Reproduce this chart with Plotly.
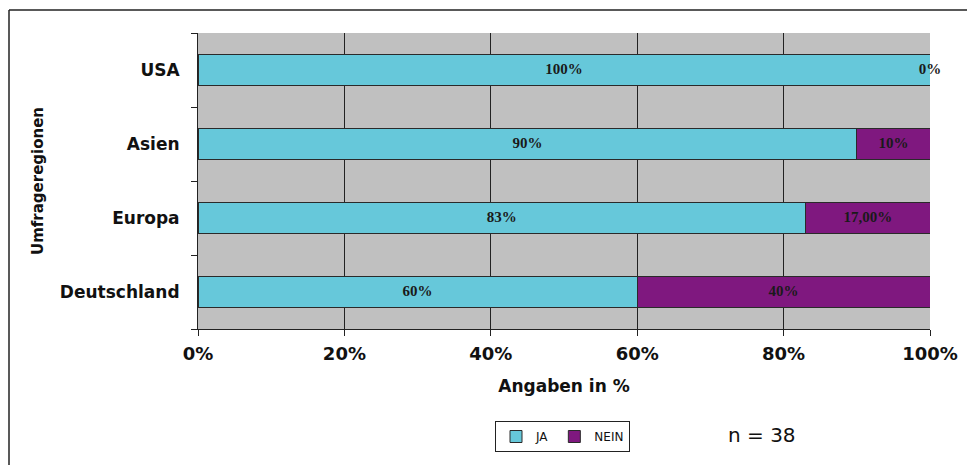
import plotly.graph_objects as go

categories = ["Deutschland", "Europa", "Asien", "USA"]
ja_values = [60, 83, 90, 100]
nein_values = [40, 17, 10, 0]
ja_labels = ["60%", "83%", "90%", "100%"]
nein_labels = ["40%", "17,00%", "10%", "0%"]
x_ticks = [0, 20, 40, 60, 80, 100]
x_tick_labels = ["0%", "20%", "40%", "60%", "80%", "100%"]

CYAN = "#66C8DA"
PURPLE = "#7F187F"
OFF = 8  # page body margin
W, H = 975 - OFF, 465 - OFF
L, T = 198 - OFF, 33 - OFF
R = W - (930 - OFF)
B = H - (329 - OFF)
pw, ph = W - L - R, H - T - B

def px(x):
    return (x - OFF - L) / pw

def py(y):
    return (H - B - (y - OFF)) / ph

fig = go.Figure()
fig.add_trace(go.Bar(
    y=categories, x=ja_values, name="JA", orientation="h",
    marker=dict(color=CYAN, line=dict(color="#2a2a2a", width=1)), width=0.42,
))
fig.add_trace(go.Bar(
    y=categories, x=nein_values, name="NEIN", orientation="h",
    marker=dict(color=PURPLE, line=dict(color="#2a2a2a", width=1)), width=0.42,
))

label_font = dict(family="Liberation Serif", size=15, color="#1a1a1a", weight="bold")
fig.add_trace(go.Scatter(
    y=categories, x=[v / 2 for v in ja_values], mode="text", text=ja_labels,
    textfont=label_font, showlegend=False, hoverinfo="skip", cliponaxis=False,
))
fig.add_trace(go.Scatter(
    y=categories, x=[a + n / 2 for a, n in zip(ja_values, nein_values)], mode="text",
    text=nein_labels, textfont=label_font, showlegend=False, hoverinfo="skip",
    cliponaxis=False,
))

tick_font = dict(family="DejaVu Sans", size=18, color="#111111", weight="bold")
cat_font = dict(family="DejaVu Sans", size=17, color="#111111", weight="bold")
border = dict(color="#222222", width=1.5)
fig.update_layout(
    width=W, height=H,
    margin=dict(l=L, r=R, t=T, b=B, autoexpand=False),
    barmode="stack",
    plot_bgcolor="#C0C0C0",
    paper_bgcolor="white",
    font=dict(family="DejaVu Sans", color="#111111"),
    xaxis=dict(
        range=[0, 100], tickvals=x_ticks, ticktext=x_tick_labels,
        showgrid=True, gridcolor="#222222", gridwidth=1,
        showline=True, linecolor="#222222", linewidth=1,
        ticks="outside", ticklen=6, tickcolor="#222222",
        tickfont=tick_font, automargin=False, ticklabelstandoff=2,
        title=dict(text="Angaben in %", font=cat_font, standoff=17),
        zeroline=False,
    ),
    yaxis=dict(
        type="category", categoryorder="array", categoryarray=categories,
        range=[-0.5, 3.5], automargin=False,
        showline=True, linecolor="#222222", linewidth=1,
        ticks="outside", ticklen=6, tickcolor="#222222", tickson="boundaries",
        tickfont=cat_font, ticklabelstandoff=14,
        title=dict(text="Umfrageregionen",
                   font=dict(family="DejaVu Sans", size=15, color="#111111", weight="bold"),
                   standoff=12),
        showgrid=False, zeroline=False,
    ),
    legend=dict(
        orientation="h", x=px(495), y=py(421), xanchor="left", yanchor="top",
        bordercolor="#222222", borderwidth=1, bgcolor="white",
        font=dict(family="DejaVu Sans", size=12), itemwidth=30,
        traceorder="normal",
    ),
    shapes=[
        dict(type="line", xref="paper", yref="paper",
             x0=px(9), x1=px(969), y0=py(10), y1=py(10), line=border),
        dict(type="line", xref="paper", yref="paper",
             x0=px(9), x1=px(9), y0=py(10), y1=py(470), line=border),
        dict(type="line", xref="paper", yref="paper",
             x0=px(969), x1=px(969), y0=py(10), y1=py(470),
             line=dict(color="#777777", width=3)),
    ],
    annotations=[dict(
        text="n = 38", xref="paper", yref="paper", x=px(762), y=py(435),
        xanchor="center", yanchor="middle",
        showarrow=False, font=dict(family="DejaVu Sans", size=20, color="#111111"),
    )],
)

fig.write_html("out.html")
